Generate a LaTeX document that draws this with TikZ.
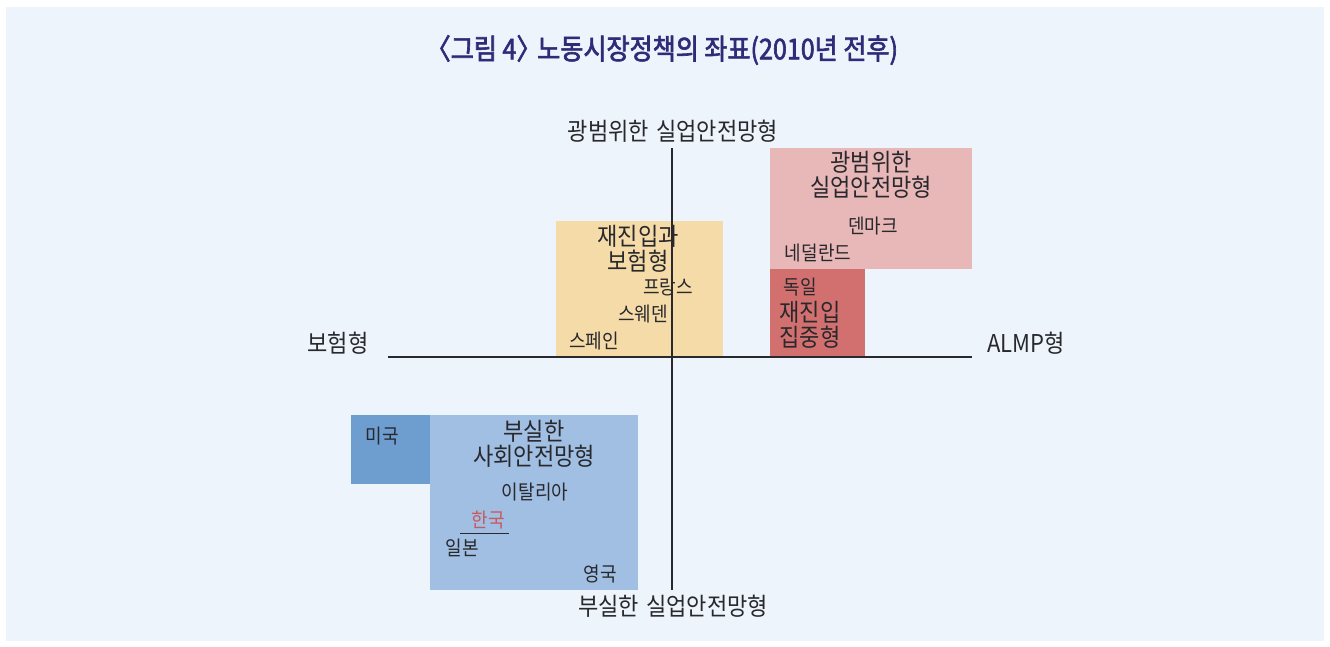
\documentclass[tikz,border=0pt]{standalone}
\usepackage{fontspec}
\newfontfamily\kr[FakeStretch=0.9]{Noto Sans CJK KR}
\newfontfamily\krb[FakeStretch=0.88,FakeBold=2.2]{Noto Sans CJK KR}
\definecolor{panel}{RGB}{237,244,251}
\definecolor{yel}{RGB}{245,219,168}
\definecolor{pnk}{RGB}{232,183,183}
\definecolor{dred}{RGB}{210,112,112}
\definecolor{lblue}{RGB}{160,191,226}
\definecolor{dblue}{RGB}{110,157,207}
\definecolor{txt}{RGB}{40,40,45}
\definecolor{navy}{RGB}{46,44,120}
\definecolor{kred}{RGB}{200,90,95}
\tikzset{
  axis/.style={line width=2.8pt,draw=txt},
  head/.style={inner sep=0pt,align=center,text=txt,font=\kr\fontsize{24.5}{25}\selectfont},
  cty/.style={inner sep=0pt,text=txt,font=\kr\fontsize{20}{21}\selectfont},
  axlab/.style={inner sep=0pt,text=txt,font=\kr\fontsize{24.5}{25}\selectfont},
}
\begin{document}
\begin{tikzpicture}[x=1pt,y=-1pt]
\useasboundingbox (0,0) rectangle (1330,646);
\fill[white] (0,0) rectangle (1330,646);
\fill[panel] (6,7) rectangle (1324,641);
\node[inner sep=0pt,text=navy,font=\krb\fontsize{28.5}{30}\selectfont] (title) at (669,50) {\hspace{-0.5em}〈그림 4〉\hspace{-0.15em}노동시장정책의 좌표(2010년 전후)};
% regions
\fill[yel] (556,221) coordinate (yA) rectangle (723,357) coordinate (yB);
\fill[pnk] (770,148) coordinate (pA) rectangle (972,269) coordinate (pB);
\fill[dred] (770,269) coordinate (rA) rectangle (865,357) coordinate (rB);
\fill[lblue] (430,415) coordinate (bA) rectangle (638,590) coordinate (bB);
\fill[dblue] (351,415) coordinate (dA) rectangle (430,484) coordinate (dB);
% axes
\coordinate (vt) at (672,148);
\coordinate (vb) at (672,590);
\coordinate (hl) at (388,357);
\coordinate (hr) at (972,357);
\draw[axis] (vt) -- (vb);
\draw[axis] (hl) -- (hr);
% axis labels
\node[axlab] (top) at (673,131) {광범위한\hspace{0.3em}실업안전망형};
\node[axlab] (bot) at (673,606) {부실한\hspace{0.3em}실업안전망형};
\node[axlab] (left) at (338,343) {보험형};
\node[axlab] (right) at (1026,343) {ALMP형};
% yellow
\node[head] (yh) at (638,249) {재진입과\\보험형};
\node[cty] (fr) at (668,287) {프랑스};
\node[cty] (se) at (643,314) {스웨덴};
\node[cty] (es) at (594,341) {스페인};
% pink
\node[head] (ph) at (871,175) {광범위한\\실업안전망형};
\node[cty] (dk) at (873,226) {덴마크};
\node[cty] (nl) at (818,253) {네덜란드};
% dark red
\node[cty] (de) at (800,287) {독일};
\node[head] (rh) at (810,325) {재진입\\집중형};
% blue
\node[head] (bh) at (534,444) {부실한\\사회안전망형};
\node[cty] (it) at (535,492) {이탈리아};
\node[cty,text=kred] (kr) at (488,520) {한국};
\coordinate (ul1) at (460,533);
\coordinate (ul2) at (509,533);
\draw[line width=0.8pt,txt] (ul1) -- (ul2);
\node[cty] (jp) at (462,548) {일본};
\node[cty] (uk) at (600,574) {영국};
\node[cty] (us) at (382,436) {미국};
\end{tikzpicture}
\end{document}
